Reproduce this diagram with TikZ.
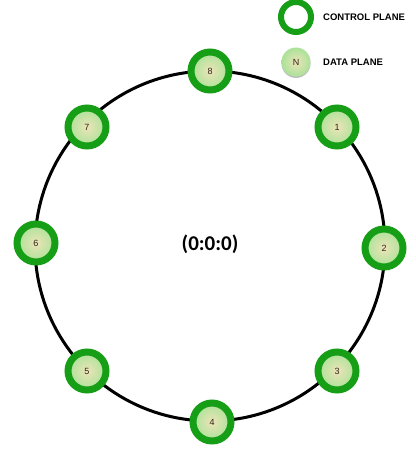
\documentclass[tikz,border=0pt]{standalone}
\usepackage{fontspec}
\setmainfont{Liberation Sans}
\newfontfamily\carlito{Carlito}
\usetikzlibrary{shadows}
\definecolor{ringgreen}{RGB}{22,158,22}
\definecolor{innergreen}{RGB}{170,226,152}
\definecolor{innercenter}{RGB}{236,228,184}
\definecolor{labelcol}{RGB}{50,35,25}
\tikzset{
  dp/.style={circle, minimum size=38pt, inner sep=0pt, draw=ringgreen, line width=7pt,
    inner color=innercenter, outer color=innergreen,
    font=\fontsize{9}{9}\selectfont, text=labelcol,
    drop shadow={shadow xshift=0pt, shadow yshift=-1.5pt, opacity=0.25, fill=black}},
  legcp/.style={circle, minimum size=30pt, inner sep=0pt, draw=ringgreen, line width=6pt, fill=white,
    drop shadow={shadow xshift=0pt, shadow yshift=-1.5pt, opacity=0.25, fill=black}},
  legdp/.style={circle, minimum size=29pt, inner sep=0pt,
    inner color=innercenter, outer color=innergreen, font=\fontsize{9}{9}\selectfont, text=labelcol,
    drop shadow={shadow xshift=0pt, shadow yshift=-1.5pt, opacity=0.25, fill=black}},
  legtext/.style={anchor=west, font=\fontsize{9.5}{10}\selectfont\bfseries, inner sep=0pt},
  ring/.style={draw=black, line width=3pt}
}
\begin{document}
\begin{tikzpicture}[x=1pt, y=-1pt]
\useasboundingbox (0,0) rectangle (415,452);
\coordinate (c) at (210,246);
\draw[ring] (c) circle[radius=175];
\node[font=\carlito\fontsize{21}{21}\selectfont\bfseries] (ctr) at (210,244) {(0:0:0)};
\node[dp] (n8) at (210,71) {8};
\node[dp] (n1) at (337,127) {1};
\node[dp] (n2) at (384,248) {2};
\node[dp] (n3) at (337,371) {3};
\node[dp] (n4) at (212,422) {4};
\node[dp] (n5) at (87,371) {5};
\node[dp] (n6) at (36,243) {6};
\node[dp] (n7) at (87,127) {7};
\node[legcp] (lcp) at (296,17) {};
\node[legdp] (ldp) at (296,62) {N};
\node[legtext] (tcp) at (323,17) {CONTROL PLANE};
\node[legtext] (tdp) at (323,62) {DATA PLANE};
\end{tikzpicture}
\end{document}
